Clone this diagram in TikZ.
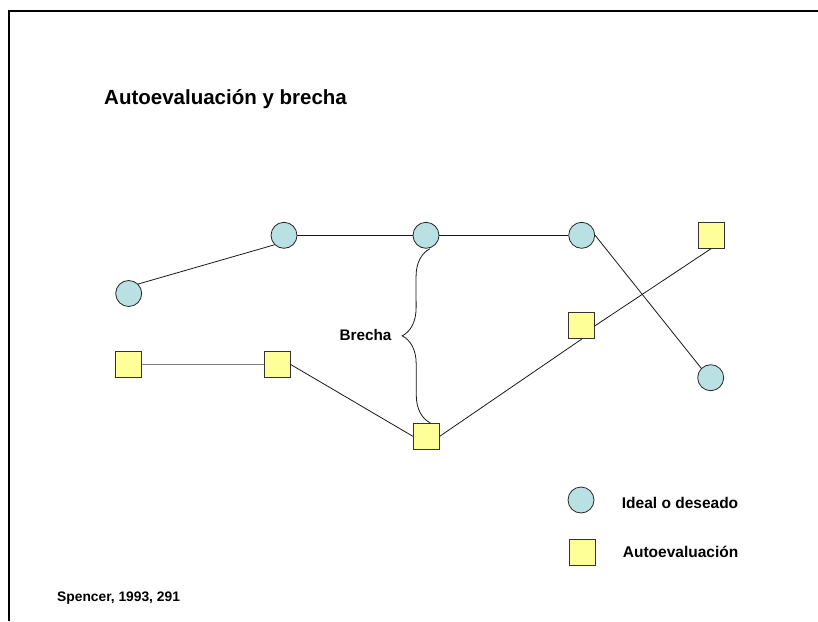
\documentclass[tikz,border=0pt]{standalone}
\usepackage{fontspec}
\setmainfont{Liberation Sans}
\usetikzlibrary{decorations.pathreplacing}
\definecolor{circfill}{RGB}{185,224,227}
\definecolor{sqfill}{RGB}{255,255,153}
\begin{document}
\begin{tikzpicture}[x=1pt,y=-1pt,
  ideal/.style={circle,draw=black!85,fill=circfill,minimum size=26pt,inner sep=0pt,line width=0.8pt},
  autoev/.style={rectangle,draw=black!80,fill=sqfill,minimum size=26pt,inner sep=0pt,line width=0.8pt},
  link/.style={draw=black!90,line width=0.8pt},
  greylink/.style={draw=black!50,line width=1.3pt},
  lbl/.style={font=\bfseries,inner sep=0pt}]
\useasboundingbox (0,0) rectangle (818,621);
% frame
\draw[line width=2pt] (9,621) -- (9,11) -- (818,11);
% title and source
\node[lbl,font=\bfseries\fontsize{20.5}{24}\selectfont,anchor=base west] (title) at (104,104.3) {Autoevaluación y brecha};
\node[lbl,font=\bfseries\fontsize{13.8}{16}\selectfont,anchor=base west] (src) at (57,601) {Spencer, 1993, 291};
% ideal nodes
\node[ideal] (c1) at (128.7,293.5) {};
\node[ideal] (c2) at (284,235.3) {};
\node[ideal] (c3) at (426,235.3) {};
\node[ideal] (c4) at (581.7,235.3) {};
\node[ideal] (c5) at (710.7,377.7) {};
% self-evaluation nodes
\node[autoev] (s1) at (128.7,364.5) {};
\node[autoev] (s2) at (277.3,364.5) {};
\node[autoev] (s3) at (426.3,436.3) {};
\node[autoev] (s4) at (581.7,325.7) {};
\node[autoev] (s5) at (711,235.3) {};
% connectors
\draw[link] (c1.north east) -- (c2.south west);
\draw[link] (c2.east) -- (c3.west);
\draw[link] (c3.east) -- (c4.west);
\draw[link] (c4.east) -- (c5.north west);
\draw[greylink] (s1.east) -- (s2.west);
\draw[link] (s2.east) -- (s3.west);
\draw[link] (s3.east) -- (s4.south);
\draw[link] (s4.east) -- (s5.south);
% brace
\draw[link,decorate,decoration={brace,amplitude=28pt}]
  ([xshift=4pt]s3.north) -- ([xshift=4pt]c3.south);
\node[lbl,font=\bfseries\fontsize{15.3}{18}\selectfont,anchor=base east] (brecha) at (391.7,340.7) {Brecha};
% legend
\node[ideal] (lc) at (581,500) {};
\node[autoev] (ls) at (582,552.5) {};
\node[lbl,font=\bfseries\fontsize{15.5}{18}\selectfont,anchor=base west] (lct) at (621.7,508.3) {Ideal o deseado};
\node[lbl,font=\bfseries\fontsize{15.5}{18}\selectfont,anchor=base west] (lst) at (622.7,557.3) {Autoevaluación};
\end{tikzpicture}
\end{document}
